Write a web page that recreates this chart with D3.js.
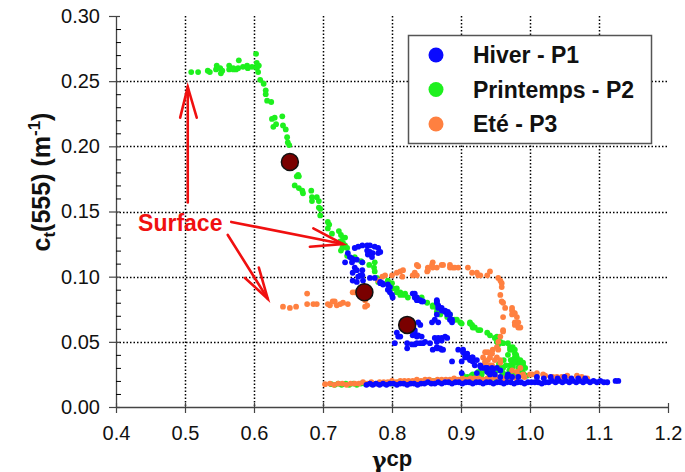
<!DOCTYPE html>
<html><head><meta charset="utf-8">
<script src="https://cdn.jsdelivr.net/npm/d3@7/dist/d3.min.js"></script>
<style>body{margin:0;background:#fff}svg{display:block}</style>
</head><body><svg id="c" width="685" height="472"></svg>
<script>
// ---------- data ----------
const xTicks = [0.4,0.5,0.6,0.7,0.8,0.9,1.0,1.1,1.2];
const yTicks = [0.00,0.05,0.10,0.15,0.20,0.25,0.30];
const seriesNames = ["Hiver - P1","Printemps - P2","Eté - P3"];
const seriesColors = ["#0a0aff","#1ef01e","#ff8040"];

const printemps = [
[0.509,0.257],[0.519,0.257],[0.533,0.258],[0.536,0.257],[0.545,0.259],[0.546,0.262],[0.551,0.260],[0.552,0.256],[0.554,0.258],[0.564,0.262],[0.564,0.259],[0.570,0.259],[0.570,0.260],[0.574,0.259],[0.577,0.260],[0.578,0.266],[0.584,0.261],[0.590,0.262],[0.591,0.260],[0.597,0.261],[0.604,0.261],[0.604,0.260],[0.603,0.271],[0.604,0.264],[0.606,0.257],[0.607,0.262],
[0.609,0.251],[0.614,0.248],[0.617,0.243],[0.617,0.240],[0.619,0.235],[0.625,0.234],[0.626,0.221],[0.630,0.222],[0.628,0.215],[0.632,0.217],[0.641,0.223],[0.642,0.216],[0.646,0.213],[0.648,0.207],[0.649,0.203],[0.651,0.201],
[0.664,0.178],[0.662,0.177],[0.665,0.177],[0.659,0.170],[0.665,0.168],[0.670,0.166],[0.671,0.164],[0.683,0.166],[0.684,0.161],[0.684,0.158],[0.691,0.161],[0.694,0.158],[0.694,0.153],[0.696,0.152],[0.696,0.147],
[0.707,0.142],[0.709,0.140],[0.707,0.137],[0.713,0.133],[0.723,0.135],[0.726,0.132],[0.729,0.130],[0.732,0.130],[0.725,0.127],[0.729,0.126],[0.729,0.123],[0.735,0.122],[0.726,0.120],[0.732,0.124],[0.728,0.122],[0.735,0.116],[0.746,0.115],[0.755,0.112],[0.757,0.111],[0.767,0.109],[0.775,0.111],[0.774,0.107],[0.775,0.104],[0.778,0.099],[0.780,0.096],
[0.794,0.097],[0.794,0.096],[0.800,0.095],[0.801,0.091],[0.807,0.091],[0.807,0.088],[0.812,0.088],[0.812,0.086],[0.817,0.086],[0.819,0.087],[0.823,0.084],[0.843,0.084],[0.843,0.082],[0.851,0.080],[0.859,0.078],[0.859,0.077],[0.865,0.076],[0.865,0.073],[0.870,0.072],[0.870,0.071],[0.880,0.069],[0.884,0.071],[0.891,0.067],[0.894,0.067],[0.899,0.065],[0.901,0.064],[0.913,0.065],[0.913,0.064],[0.916,0.063],[0.917,0.061],[0.920,0.061],[0.925,0.059],[0.928,0.059],[0.938,0.057],[0.942,0.055],[0.949,0.053],[0.952,0.054],[0.952,0.050],[0.954,0.048],[0.957,0.050],[0.961,0.049],[0.968,0.049],[0.971,0.046],[0.971,0.044],[0.975,0.046],[0.974,0.044],[0.978,0.044],[0.978,0.041],[0.978,0.038],[0.981,0.038],[0.974,0.036],[0.981,0.034],[0.986,0.036],[0.990,0.034],[0.990,0.032],[0.993,0.030],[0.971,0.032],[0.961,0.030],[0.961,0.026],[0.952,0.028],[0.942,0.030],[0.939,0.027],[0.928,0.026],[0.917,0.025],[0.909,0.023],[0.903,0.024],[0.975,0.026],[0.983,0.026],[0.975,0.034],
[0.915,0.024],[0.925,0.027],[0.930,0.025],[0.935,0.028],[0.940,0.026],[0.945,0.031],[0.950,0.028],[0.955,0.033],[0.958,0.030],[0.962,0.036],[0.965,0.032],[0.968,0.040],[0.970,0.028],[0.972,0.036],[0.975,0.031],[0.978,0.034],[0.980,0.040],[0.983,0.030],[0.985,0.033],[0.988,0.028],[0.960,0.025],[0.975,0.025],[0.990,0.026],[0.995,0.024],
[0.712,0.0175],[0.717,0.017],[0.722,0.018],[0.727,0.017],[0.733,0.018],[0.738,0.017],[0.744,0.018],[0.749,0.017],[0.755,0.018],[0.760,0.018],[0.770,0.018],[0.780,0.018],[0.790,0.018],[0.800,0.018],[0.810,0.019],[0.820,0.019],[0.830,0.019],[0.840,0.019],[0.850,0.019],[0.860,0.020],[0.870,0.020],[0.880,0.020],[0.890,0.020],[0.900,0.021],[0.910,0.021],[0.920,0.021],[0.930,0.022],[0.940,0.022],[0.950,0.022],[0.960,0.022],[0.970,0.023],[0.980,0.023]
];

const ete = [
[0.642,0.077],[0.652,0.076],[0.661,0.077],[0.677,0.087],[0.677,0.079],[0.686,0.079],[0.691,0.079],[0.707,0.079],[0.710,0.078],[0.714,0.081],[0.717,0.081],[0.720,0.078],[0.725,0.079],[0.729,0.080],[0.736,0.079],[0.743,0.088],[0.746,0.088],[0.758,0.084],[0.761,0.082],[0.764,0.078],[0.761,0.077],
[0.780,0.097],[0.786,0.100],[0.790,0.101],[0.800,0.101],[0.807,0.103],[0.812,0.104],[0.815,0.100],[0.816,0.105],[0.830,0.101],[0.833,0.103],[0.836,0.101],[0.836,0.109],[0.838,0.108],[0.851,0.104],[0.852,0.105],[0.852,0.107],[0.858,0.109],[0.859,0.111],[0.859,0.107],[0.865,0.107],[0.872,0.109],[0.874,0.109],[0.884,0.109],[0.884,0.107],[0.888,0.107],[0.891,0.107],[0.896,0.107],[0.910,0.107],[0.916,0.103],[0.923,0.103],[0.925,0.101],[0.928,0.101],[0.938,0.101],[0.942,0.104],
[0.954,0.099],[0.957,0.097],[0.959,0.095],[0.959,0.092],[0.957,0.086],[0.959,0.081],[0.961,0.080],[0.964,0.076],[0.974,0.076],[0.974,0.074],[0.975,0.073],[0.978,0.072],[0.981,0.069],[0.974,0.071],[0.978,0.065],[0.983,0.065],[0.983,0.061],[0.986,0.061],[0.978,0.063],[0.961,0.069],[0.961,0.059],[0.961,0.058],[0.957,0.054],[0.954,0.050],[0.952,0.046],[0.946,0.044],[0.954,0.044],[0.935,0.042],[0.939,0.042],[0.945,0.041],[0.932,0.038],[0.942,0.038],[0.952,0.038],[0.935,0.035],[0.939,0.036],[0.949,0.036],[0.957,0.036],[0.957,0.034],[0.942,0.032],[0.945,0.032],[0.935,0.034],
[0.974,0.028],[0.981,0.027],[0.986,0.030],[0.990,0.025],[1.000,0.025],[1.003,0.025],[1.010,0.026],[1.010,0.023],[1.019,0.025],[1.022,0.024],[1.033,0.023],[1.039,0.023],[1.046,0.023],[1.054,0.024],[1.068,0.024],[1.075,0.023],[1.083,0.022],
[0.703,0.0175],[0.710,0.018],[0.716,0.017],[0.722,0.018],[0.728,0.018],[0.734,0.017],[0.740,0.018],[0.746,0.018],[0.752,0.018],[0.758,0.019],[0.764,0.018],[0.770,0.019],[0.776,0.018],[0.782,0.019],[0.788,0.019],[0.794,0.019],[0.800,0.020],[0.806,0.019],[0.812,0.020],[0.818,0.020],[0.824,0.020],[0.830,0.020],[0.836,0.021],[0.842,0.020],[0.848,0.021],[0.854,0.021],[0.860,0.020],[0.866,0.021],[0.872,0.021],[0.878,0.021],[0.884,0.021],[0.890,0.022],[0.896,0.021],[0.902,0.022],[0.908,0.021],[0.914,0.022],[0.920,0.022],[0.926,0.022],[0.932,0.021],[0.938,0.022],[0.944,0.022],[0.950,0.023],[0.956,0.022],[0.962,0.022],[0.968,0.023],[0.974,0.023],[0.980,0.022],[0.986,0.024],[0.992,0.023]
];

const hiver = [
[0.751,0.123],[0.757,0.124],[0.764,0.124],[0.768,0.124],[0.775,0.123],[0.780,0.122],[0.764,0.120],[0.768,0.119],[0.772,0.118],[0.765,0.117],[0.780,0.118],[0.783,0.119],[0.771,0.115],[0.736,0.118],[0.739,0.115],[0.742,0.111],[0.743,0.113],[0.732,0.111],[0.746,0.107],[0.749,0.105],[0.757,0.111],[0.757,0.105],[0.754,0.101],[0.743,0.103],[0.751,0.100],[0.743,0.097],[0.749,0.096],[0.758,0.097],[0.742,0.114],[0.746,0.122],[0.749,0.113],[0.757,0.101],[0.768,0.099],[0.775,0.099],[0.783,0.096],[0.783,0.095],[0.794,0.094],[0.797,0.092],[0.794,0.090],[0.797,0.088],[0.800,0.086],[0.801,0.084],[0.786,0.095],[0.787,0.094],
[0.830,0.087],[0.833,0.087],[0.833,0.084],[0.836,0.084],[0.836,0.082],[0.838,0.082],[0.841,0.082],[0.843,0.081],[0.845,0.081],[0.865,0.082],[0.865,0.081],[0.865,0.080],[0.867,0.078],[0.867,0.076],[0.872,0.076],[0.872,0.074],[0.877,0.074],[0.877,0.073],[0.880,0.071],[0.881,0.073],[0.884,0.071],[0.884,0.067],[0.887,0.067],[0.887,0.065],[0.865,0.071],[0.862,0.067],[0.867,0.065],[0.838,0.065],[0.841,0.063],[0.858,0.065],
[0.807,0.057],[0.809,0.054],[0.812,0.054],[0.833,0.059],[0.833,0.057],[0.830,0.055],[0.836,0.054],[0.838,0.055],[0.843,0.054],[0.804,0.049],[0.822,0.049],[0.822,0.045],[0.829,0.048],[0.833,0.048],[0.836,0.049],[0.841,0.049],[0.845,0.049],[0.848,0.050],[0.855,0.049],[0.862,0.053],[0.867,0.053],[0.872,0.053],[0.872,0.051],[0.877,0.054],[0.880,0.053],[0.865,0.050],[0.865,0.046],[0.859,0.044],[0.865,0.045],[0.867,0.045],[0.870,0.045],[0.872,0.044],[0.874,0.044],
[0.896,0.044],[0.903,0.044],[0.903,0.042],[0.906,0.040],[0.909,0.041],[0.906,0.038],[0.910,0.038],[0.913,0.036],[0.916,0.038],[0.917,0.038],[0.917,0.035],[0.923,0.036],[0.887,0.035],[0.920,0.032],[0.928,0.032],[0.928,0.031],[0.930,0.030],[0.935,0.030],[0.938,0.030],[0.938,0.027],[0.945,0.030],[0.946,0.028],[0.952,0.030],[0.957,0.028],[0.942,0.025],[0.949,0.025],[0.923,0.026],[0.957,0.023],[0.967,0.023],[0.968,0.025],[0.974,0.023],[0.983,0.023],[0.901,0.035],[0.901,0.026],
[0.763,0.017],[0.768,0.018],[0.772,0.017],[0.777,0.018],[0.782,0.017],[0.787,0.018],[0.792,0.017],[0.797,0.018],[0.802,0.018],[0.807,0.017],[0.812,0.018],[0.817,0.018],[0.822,0.017],[0.827,0.018],[0.832,0.018],[0.837,0.017],[0.842,0.018],[0.847,0.018],[0.852,0.019],[0.857,0.018],[0.862,0.018],[0.867,0.019],[0.872,0.018],[0.877,0.019],[0.882,0.019],[0.887,0.018],[0.892,0.019],[0.897,0.019],[0.902,0.018],[0.907,0.019],[0.912,0.019],[0.917,0.018],[0.922,0.019],[0.927,0.019],[0.932,0.018],[0.937,0.019],[0.942,0.019],[0.947,0.018],[0.952,0.019],[0.957,0.019],[0.962,0.018],[0.967,0.019],[0.972,0.019],[0.977,0.018],[0.982,0.019],[0.987,0.019],[0.992,0.018],[0.997,0.019],[1.002,0.019],[1.007,0.019],[1.012,0.019],[1.017,0.018],[1.022,0.019],[1.027,0.019],[1.032,0.020],[1.037,0.019],[1.042,0.020],[1.047,0.019],[1.052,0.020],[1.057,0.019],[1.062,0.020],[1.067,0.019],[1.072,0.020],[1.077,0.019],[1.082,0.020],[1.087,0.019],[1.092,0.020],[1.097,0.019],[1.102,0.020],[1.107,0.019],[1.112,0.019],[1.124,0.020],[1.128,0.020],
[1.010,0.023],[1.020,0.022],[1.030,0.023],[1.040,0.022],[1.050,0.023],[1.060,0.022],[1.070,0.022],[1.080,0.022]
];

const highlights = [[0.652,0.188],[0.760,0.088],[0.822,0.063]];

const surfaceLabel = {text:"Surface", x:0.432, y:0.135};
// arrows: tail, tip, two barb ends
const arrows = [
  {tail:[0.504,0.157], tip:[0.504,0.2456], b1:[0.493,0.222], b2:[0.517,0.222]},
  {tail:[0.567,0.142], tip:[0.729,0.125], b1:[0.686,0.137], b2:[0.681,0.123]},
  {tail:[0.562,0.132], tip:[0.620,0.083], b1:[0.587,0.099], b2:[0.607,0.107]}
];

// ---------- chart ----------
const svg = d3.select("#c");
const FONT = "'Liberation Sans', Arial, sans-serif";
const x = d3.scaleLinear().domain([0.4,1.2]).range([116,668]);
const y = d3.scaleLinear().domain([0,0.30]).range([407,16]);

// grid (dotted), under the data
const grid = svg.append("g");
xTicks.slice(1,-1).forEach(d=>{
  grid.append("line").attr("x1",Math.round(x(d))+0.5).attr("x2",Math.round(x(d))+0.5)
    .attr("y1",y(0.30)).attr("y2",y(0)).attr("stroke","#000").attr("stroke-width",1.5).attr("stroke-dasharray","1.5,2");
});
yTicks.slice(1,-1).forEach(d=>{
  grid.append("line").attr("y1",Math.round(y(d))+0.5).attr("y2",Math.round(y(d))+0.5)
    .attr("x1",x(0.4)).attr("x2",x(1.2)).attr("stroke","#000").attr("stroke-width",1.5).attr("stroke-dasharray","1.5,2");
});

// axes
const yAxis = svg.append("g").attr("transform",`translate(${x(0.4)},0)`)
  .call(d3.axisLeft(y).tickValues(yTicks).tickFormat(d3.format(".2f")).tickSize(7).tickSizeOuter(0).tickPadding(9));
const minor = d3.range(0,31).map(i=>i/100).filter(v=>Math.round(v*100)%5!==0);
svg.append("g").attr("transform",`translate(${x(0.4)},0)`)
  .call(d3.axisLeft(y).tickValues(minor).tickFormat("").tickSize(-5).tickSizeOuter(0))
  .call(g=>g.select(".domain").remove());
yAxis.selectAll(".tick line").attr("x2",-7).attr("x1",4);
const xAxis = svg.append("g").attr("transform",`translate(0,${y(0)})`)
  .call(d3.axisBottom(x).tickValues(xTicks).tickFormat(d3.format(".1f")).tickSize(6).tickSizeOuter(0).tickPadding(13));
xAxis.selectAll(".tick line").attr("y1",-4);
[yAxis,xAxis].forEach(g=>{
  g.select(".domain").attr("stroke","#444").attr("stroke-width",1.3);
  g.selectAll(".tick line").attr("stroke","#444").attr("stroke-width",1.2);
  g.selectAll(".tick text").attr("font-family",FONT).attr("font-size",20).attr("fill","#111");
});

// series
const r = 2.9;
function drawSeries(data,color){
  svg.append("g").selectAll("circle").data(data).join("circle")
    .attr("cx",d=>x(d[0])).attr("cy",d=>y(d[1])).attr("r",r).attr("fill",color);
}
drawSeries(printemps,seriesColors[1]);
drawSeries(ete,seriesColors[2]);
drawSeries(hiver,seriesColors[0]);

svg.append("g").selectAll("circle").data(highlights).join("circle")
  .attr("cx",d=>x(d[0])).attr("cy",d=>y(d[1])).attr("r",8.5)
  .attr("fill","#7a0000").attr("stroke","#111").attr("stroke-width",1.5);

// annotations
const ag = svg.append("g").attr("stroke","#f01010").attr("stroke-width",2.6).attr("fill","none").attr("stroke-linecap","round");
arrows.forEach(a=>{
  ag.append("line").attr("x1",x(a.tail[0])).attr("y1",y(a.tail[1])).attr("x2",x(a.tip[0])).attr("y2",y(a.tip[1]));
  ag.append("polyline").attr("points",[a.b1,a.tip,a.b2].map(p=>x(p[0])+","+y(p[1])).join(" "));
});
svg.append("text").attr("x",x(surfaceLabel.x)).attr("y",y(surfaceLabel.y))
  .attr("font-family",FONT).attr("font-weight","bold").attr("font-size",23).attr("fill","#f01010")
  .text(surfaceLabel.text);

// legend
const lg = svg.append("g");
lg.append("rect").attr("x",408.5).attr("y",35.5).attr("width",243).attr("height",108)
  .attr("fill","#fff").attr("stroke","#555").attr("stroke-width",1.5);
seriesNames.forEach((n,i)=>{
  const cy = 55 + i*34.5;
  lg.append("circle").attr("cx",436).attr("cy",cy).attr("r",7.5).attr("fill",seriesColors[i]);
  lg.append("text").attr("x",473).attr("y",cy+8).attr("font-family",FONT).attr("font-weight","bold")
    .attr("font-size",23).attr("fill","#111").text(n);
});

// axis titles
const yt = svg.append("text").attr("transform","translate(50,182) rotate(-90)").attr("text-anchor","middle")
  .attr("font-family",FONT).attr("font-weight","bold").attr("font-size",25).attr("fill","#111");
yt.append("tspan").text("c");
yt.append("tspan").attr("font-size",17).attr("dy",5).text("t");
yt.append("tspan").attr("dy",-5).text("(555) (m");
yt.append("tspan").attr("font-size",17).attr("dy",-10).text("-1");
yt.append("tspan").attr("dy",10).text(")");
const xt = svg.append("text").attr("x",392).attr("y",466).attr("text-anchor","middle")
  .attr("font-weight","bold").attr("font-size",22).attr("fill","#111");
xt.append("tspan").attr("font-family","'DejaVu Serif', serif").attr("dy",2).text("γ");
xt.append("tspan").attr("font-family",FONT).attr("dy",-2).text("cp");
</script>
</body></html>
